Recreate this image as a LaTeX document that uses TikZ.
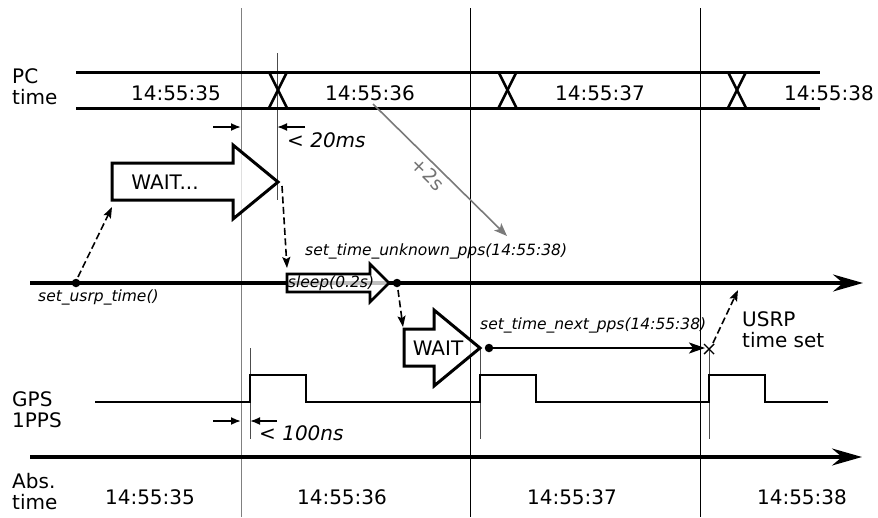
\documentclass[tikz,border=0pt]{standalone}
\usepackage{fontspec}
\setmainfont{DejaVu Sans}
\usetikzlibrary{arrows.meta}
\begin{document}
\begin{tikzpicture}[x=1pt,y=-1pt,
  big/.style={font=\fontsize{20}{22}\selectfont, inner sep=0pt},
  fn/.style={font=\fontsize{15.5}{17}\selectfont\itshape, inner sep=0pt},
  gridline/.style={line width=0.85pt, black},
  gridgray/.style={line width=0.95pt, black!50},
  marker/.style={line width=0.8pt, black!70},
  bus/.style={line width=3pt},
  axis/.style={line width=3.2pt, -{Stealth[length=30pt,width=17pt,inset=10pt]}},
  signal/.style={line width=2.8pt, line join=miter},
  bigarrow/.style={line width=3pt, line join=miter, fill=white, fill opacity=0.75, draw opacity=1},
  smallarrow/.style={line width=2.6pt, line join=miter, fill=white, fill opacity=0.75, draw opacity=1},
  dashconn/.style={line width=1.6pt, dash pattern=on 7pt off 3.5pt, -{Stealth[length=11pt,width=8pt,inset=2pt]}},
  dim/.style={line width=1.8pt, -{Latex[length=10pt,width=8pt]}},
  dot/.style={circle, fill=black, inner sep=0pt, minimum size=8.5pt},
  solidconn/.style={line width=2.2pt, -{Stealth[length=16pt,width=11pt,inset=4pt]}},
  grayconn/.style={line width=1.6pt, black!52, -{Stealth[length=13pt,width=10pt,inset=3pt]}}
]
\useasboundingbox (0,0) rectangle (878,517);

% vertical reference lines
\draw[gridgray] (241,8) -- (241,517);
\draw[gridline] (470,8) -- (470,517);
\draw[gridline] (700,8) -- (700,517);
\draw[marker] (277,53) -- (277,200);
\draw[marker] (250,348) -- (250,439);
\draw[marker] (480,348) -- (480,439);
\draw[marker] (709,349) -- (709,439);

% PC time bus
\node[big, align=left, anchor=west] (pclbl) at (12,87) {PC\\[-1pt]time};
\draw[bus] (76,72) -- (820,72);
\draw[bus] (76,108) -- (820,108);
\foreach \c in {278,507.5,737}{
  \draw[line width=2.5pt] (\c-9,72) -- (\c+9,108);
  \draw[line width=2.5pt] (\c+9,72) -- (\c-9,108);
}
\node[big] (pc35) at (176,93) {14:55:35};
\node[big] (pc36) at (370,93) {14:55:36};
\node[big] (pc37) at (600,93) {14:55:37};
\node[big] (pc38) at (829,93) {14:55:38};

% < 20ms
\coordinate (a20l) at (213,127);
\coordinate (a20lt) at (241,127);
\coordinate (a20r) at (305,127);
\coordinate (a20rt) at (277,127);
\draw[dim] (a20l) -- (a20lt);
\draw[dim] (a20r) -- (a20rt);
\node[big, font=\fontsize{20}{22}\selectfont\itshape, anchor=west] (t20) at (287,140) {< 20ms};

% +2s gray arrow
\coordinate (g1) at (373,104);
\coordinate (g2) at (507,236);
\draw[grayconn] (g1) -- node[pos=0.47, sloped, below=3pt, inner sep=0pt, text=black!55, font=\fontsize{19}{20}\selectfont] (p2s) {+2s} (g2);

% main timeline
\coordinate (tl0) at (30,283);
\coordinate (tl1) at (863,283);
\draw[axis] (tl0) -- (tl1);

% WAIT... arrow
\draw[bigarrow] (112,163) -- (233,163) -- (233,145) -- (278,182) -- (233,219) -- (233,200) -- (112,200) -- cycle;
\node[big] (w1) at (165,182) {WAIT...};

% sleep arrow
\draw[smallarrow] (287,274) -- (370,274) -- (370,264) -- (389,283) -- (370,302) -- (370,292) -- (287,292) -- cycle;
\node[fn] (sl) at (331,283) {sleep(0.2s)};

% WAIT arrow 2
\draw[bigarrow] (404,329) -- (434,329) -- (434,310) -- (480,348) -- (434,386) -- (434,366) -- (404,366) -- cycle;
\node[big] (w2) at (438,348) {WAIT};

% dots and labels
\node[dot] (d1) at (76,283) {};
\node[dot] (d2) at (397,283) {};
\node[dot] (d3) at (489,348) {};
\node[fn, anchor=west] (lusrp) at (38,297) {set\_usrp\_time()};
\node[fn, anchor=west] (lunk) at (305,251) {set\_time\_unknown\_pps(14:55:38)};
\node[fn, anchor=west] (lnext) at (480,325) {set\_time\_next\_pps(14:55:38)};

% dashed connectors
\coordinate (c1a) at (78,277);
\coordinate (c1b) at (112,207);
\draw[dashconn] (c1a) -- (c1b);
\coordinate (c2a) at (282,186);
\coordinate (c2b) at (287,268);
\draw[dashconn] (c2a) -- (c2b);
\coordinate (c3a) at (398,290);
\coordinate (c3b) at (403,327);
\draw[dashconn] (c3a) -- (c3b);

% next pps arrow and set mark
\coordinate (xm) at (709,349);
\draw[solidconn] (d3) -- (705,348);
\draw[line width=1.4pt] (704,344) -- (714,354) (704,354) -- (714,344);
\coordinate (c4a) at (713,343);
\coordinate (c4b) at (738,290);
\draw[dashconn] (c4a) -- (c4b);
\node[big, align=left, anchor=west] (usrp) at (742,330) {USRP\\[-1pt]time set};

% GPS 1PPS
\node[big, align=left, anchor=west] (gpslbl) at (12,410) {GPS\\[-1pt]1PPS};
\draw[signal] (95,402) -- (250,402) -- (250,375) -- (306,375) -- (306,402) -- (480,402) -- (480,375) -- (536,375) -- (536,402) -- (709,402) -- (709,375) -- (765,375) -- (765,402) -- (828,402);

% < 100ns
\coordinate (a1l) at (213,421);
\coordinate (a1lt) at (241,421);
\coordinate (a1r) at (277,421);
\coordinate (a1rt) at (250,421);
\draw[dim] (a1l) -- (a1lt);
\draw[dim] (a1r) -- (a1rt);
\node[big, font=\fontsize{20}{22}\selectfont\itshape, anchor=west] (t100) at (259,433) {< 100ns};

% Abs time axis
\coordinate (ab0) at (30,457);
\coordinate (ab1) at (862,457);
\draw[axis] (ab0) -- (ab1);
\node[big, align=left, anchor=west] (abslbl) at (12,492) {Abs.\\[-1pt]time};
\node[big] (ab35) at (150,497) {14:55:35};
\node[big] (ab36) at (342,497) {14:55:36};
\node[big] (ab37) at (572,497) {14:55:37};
\node[big] (ab38) at (802,497) {14:55:38};
\end{tikzpicture}
\end{document}
